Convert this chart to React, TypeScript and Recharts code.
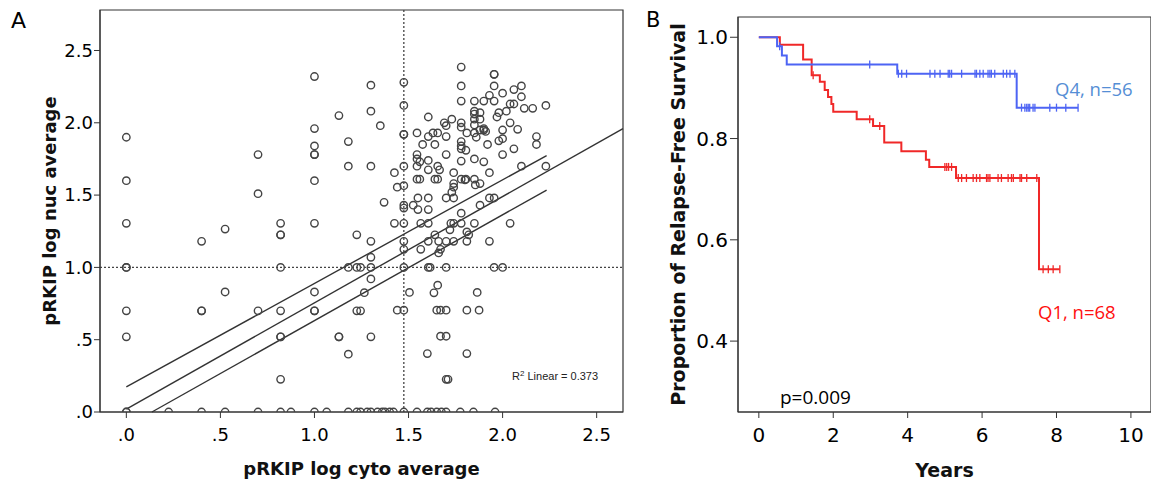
import { ScatterChart, ComposedChart, Scatter, Line, XAxis, YAxis, ReferenceLine, ReferenceArea } from 'recharts'

const AX = '#333'
const FONT = '"DejaVu Sans", sans-serif'
const RED = '#f02828'
const BLUE = '#4d64f4'

// panel A: log10 pRKIP cytoplasm (x) vs nucleus (y)
const nucVsCyto: [number, number][] = [
  [0, 1.9], [0, 1.6], [0, 1.305], [0, 1], [0, 1], [0, 0.7], [0, 0.52], [0, 0], [0, 0],
  [0.225, 0],
  [0.4, 1.18], [0.4, 0.7], [0.4, 0.7], [0.4, 0],
  [0.525, 1.265], [0.525, 0.83], [0.525, 0],
  [0.7, 1.78], [0.7, 1.51], [0.7, 0.7], [0.7, 0],
  [0.82, 1.305], [0.82, 1.225], [0.82, 1.225], [0.82, 1], [0.82, 0.7], [0.82, 0.52], [0.82, 0.52], [0.82, 0.226], [0.82, 0],
  [0.875, 0],
  [1, 2.32], [1, 1.96], [1, 1.84], [1, 1.78], [1, 1.78], [1, 1.6], [1, 1.305], [1, 0.83], [1, 0.7], [1, 0.7], [1, 0],
  [1.065, 0],
  [1.13, 2.05], [1.13, 0.52], [1.13, 0.52],
  [1.18, 1.87], [1.18, 1.7], [1.18, 1], [1.18, 0.4], [1.18, 0],
  [1.225, 1.225], [1.225, 1], [1.225, 0.7], [1.225, 0],
  [1.245, 1], [1.245, 0.7], [1.245, 0],
  [1.265, 0.825], [1.28, 0],
  [1.3, 2.26], [1.3, 2.08], [1.3, 1.7], [1.3, 1.18], [1.3, 1.07], [1.3, 1], [1.3, 0.92], [1.3, 0.52], [1.3, 0],
  [1.335, 0], [1.35, 1.98], [1.36, 0], [1.37, 1.45], [1.375, 0], [1.4, 0], [1.42, 0],
  [1.425, 1.655], [1.425, 1.305], [1.44, 1.555], [1.44, 0.704],
  [1.475, 2.28], [1.475, 2.12], [1.475, 1.92], [1.475, 1.92], [1.475, 1.7], [1.475, 1.565], [1.475, 1.43], [1.475, 1.41],
  [1.475, 1.305], [1.475, 1.18], [1.475, 1.125], [1.475, 1], [1.475, 0.704], [1.475, 0],
  [1.505, 0.827], [1.525, 1.43],
  [1.545, 1.93], [1.545, 1.78], [1.545, 1.75], [1.545, 1.7], [1.545, 1.61], [1.545, 0],
  [1.55, 1.48], [1.55, 1.4],
  [1.56, 1.73], [1.56, 1.61], [1.565, 1.305], [1.565, 1.125],
  [1.575, 1.85],
  [1.6, 0.404], [1.6, 0],
  [1.605, 2.04], [1.605, 1.905], [1.605, 1.74], [1.605, 1.675], [1.605, 1.48], [1.605, 1.4], [1.605, 1.305], [1.605, 1.18],
  [1.605, 1], [1.615, 1],
  [1.62, 0],
  [1.63, 1.93], [1.635, 0.824],
  [1.64, 1.85], [1.64, 1.61], [1.64, 1.225],
  [1.65, 0.704], [1.65, 0],
  [1.655, 1.93], [1.655, 1.7], [1.655, 1.61], [1.655, 0.877],
  [1.66, 1.18], [1.66, 1.1], [1.665, 1.675],
  [1.67, 1.125], [1.67, 0.704], [1.67, 0.524], [1.675, 0],
  [1.69, 2], [1.7, 1.98], [1.7, 1.905], [1.7, 1.78], [1.7, 1.48], [1.7, 1.18], [1.7, 1], [1.7, 0.704], [1.7, 0.524],
  [1.7, 0.226], [1.71, 0.226], [1.7, 0],
  [1.72, 1.26], [1.725, 1.305], [1.73, 2.025], [1.73, 1.52],
  [1.74, 1.655], [1.74, 1.58], [1.74, 1.555], [1.74, 1.48], [1.74, 1.305], [1.74, 1.18],
  [1.775, 0],
  [1.78, 2.385], [1.78, 2.255], [1.78, 2.15], [1.78, 2], [1.78, 1.97], [1.78, 1.87], [1.78, 1.84], [1.78, 1.82],
  [1.78, 1.735], [1.78, 1.61], [1.78, 1.375], [1.78, 1.305],
  [1.8, 1.605], [1.805, 1.81], [1.805, 1.61],
  [1.81, 1.93], [1.81, 1.245], [1.81, 1.18], [1.81, 0.704], [1.81, 0.404], [1.82, 1.225],
  [1.845, 0],
  [1.85, 2.15], [1.85, 2.08], [1.85, 2.06], [1.85, 2.025], [1.85, 1.985], [1.85, 1.93], [1.85, 1.75], [1.85, 1.61], [1.85, 1.305],
  [1.855, 1.57], [1.86, 1.9], [1.865, 0.827], [1.875, 0.704],
  [1.88, 2.07], [1.88, 2.025], [1.88, 1.95], [1.88, 1.58], [1.88, 1.43],
  [1.9, 2.15], [1.9, 1.96], [1.9, 1.95], [1.9, 1.73], [1.91, 1.94],
  [1.92, 1.85],
  [1.93, 2.19], [1.93, 1.655], [1.93, 1.48], [1.93, 1.18],
  [1.955, 2.335], [1.955, 2.335], [1.955, 2.255], [1.955, 2.15], [1.955, 1.48], [1.955, 1],
  [1.96, 0],
  [1.97, 2.04], [1.98, 2.07], [1.98, 1.875],
  [2, 2.205], [2, 1.95], [2, 1.89], [2, 1.78], [2, 1],
  [2.02, 2.08],
  [2.04, 2.13], [2.04, 2], [2.04, 1.305],
  [2.06, 2.23], [2.06, 2.13], [2.06, 1.82],
  [2.08, 1.955],
  [2.1, 2.255], [2.1, 2.18], [2.1, 1.7],
  [2.115, 2.1], [2.16, 2.1],
  [2.18, 1.905], [2.18, 1.85],
  [2.23, 2.12], [2.23, 1.7],
]
const cytoDomain = [-0.14, 2.64]
const nucDomain = [0, 2.78]
const cytoTicks = [0, 0.5, 1, 1.5, 2, 2.5]
const nucTicks = [0, 0.5, 1, 1.5, 2, 2.5]
const cytoCut = 1.475
const nucCut = 1
const fitLine = [[0, 0.02], [2.64, 1.96]]
const ciUpper = [[0, 0.173], [2.234, 1.773]]
const ciLower = [[0.136, 0], [2.234, 1.535]]
const r2 = '0.373'

// panel B: Kaplan-Meier steps [years, proportion]
const q1Steps: [number, number][] = [
  [0, 1], [0.565, 0.985], [1.19, 0.956], [1.42, 0.925], [1.64, 0.912], [1.77, 0.896], [1.86, 0.882],
  [1.95, 0.868], [2.0, 0.853], [2.63, 0.838], [3.07, 0.825], [3.37, 0.792], [3.83, 0.775], [4.49, 0.758],
  [4.58, 0.744], [5.3, 0.722], [7.53, 0.542], [8.09, 0.542],
]
const q4Steps: [number, number][] = [
  [0, 1], [0.49, 0.982], [0.62, 0.964], [0.75, 0.946], [3.72, 0.928], [6.93, 0.861], [8.58, 0.861],
]
const q1Censored = [
  1.46, 2.98, 3.25, 5.0, 5.05, 5.1, 5.18, 5.36, 5.45, 5.58, 5.76, 5.85, 5.94, 6.12, 6.16, 6.21, 6.43, 6.52,
  6.7, 6.79, 6.84, 7.02, 7.06, 7.2, 7.47, 7.64, 7.78, 7.91, 8.09,
]
const q4Censored = [
  0.56, 2.98, 3.75, 3.84, 3.97, 4.6, 4.73, 4.87, 5.09, 5.13, 5.18, 5.45, 5.81, 5.85, 5.94, 6.03, 6.16, 6.21,
  6.25, 6.34, 6.57, 6.66, 6.75, 6.88, 7.06, 7.15, 7.2, 7.24, 7.28, 7.37, 7.42, 7.82, 8.0, 8.25, 8.58,
]
const yearDomain = [-0.56, 10.54]
const survDomain = [0.26, 1.04]
const yearTicks = [0, 2, 4, 6, 8, 10]
const survTicks = [0.4, 0.6, 0.8, 1.0]

const survivalAt = (steps: [number, number][], t: number) => {
  let s = steps[0][1]
  for (const [st, sv] of steps) if (st <= t) s = sv
  return s
}

const scatterData = nucVsCyto.map(([x, y]) => ({ x, y }))
const seg = (pts: number[][]) => pts.map(([x, y]) => ({ x, y })) as any
const q1Data = q1Steps.map(([t, s]) => ({ t, s }))
const q4Data = q4Steps.map(([t, s]) => ({ t, s }))
const q1Marks = q1Censored.map((t) => ({ t, s: survivalAt(q1Steps, t) }))
const q4Marks = q4Censored.map((t) => ({ t, s: survivalAt(q4Steps, t) }))

const Ring = (p: any) => <circle cx={p.cx} cy={p.cy} r={3.7} fill="none" stroke="#444" strokeWidth={1.4} />
const censorMark = (color: string) => (p: any) => (
  <line x1={p.cx} x2={p.cx} y1={p.cy - 4} y2={p.cy + 4} stroke={color} strokeWidth={1.3} />
)

const tickStyle = { fill: '#000', fontSize: 18, fontFamily: FONT }
const tickStyleB = { fill: '#000', fontSize: 20, fontFamily: FONT }
const titleStyle = { fontSize: 18, fontWeight: 'bold', fontFamily: FONT, fill: '#111', textAnchor: 'middle' } as any
const titleStyleB = { ...titleStyle, fontSize: 19 }
const dotFmt = (v: number) => v.toFixed(1).replace(/^0/, '')

function ScatterPanel() {
  return (
    <ScatterChart width={640} height={481} margin={{ top: 10, right: 17, left: 0, bottom: 0 }}>
      <XAxis
        type="number" dataKey="x" domain={cytoDomain} ticks={cytoTicks} allowDataOverflow
        tickFormatter={dotFmt} tick={tickStyle} tickSize={6} tickMargin={10} height={69}
        stroke={AX} tickLine={{ stroke: AX }}
        label={{ value: 'pRKIP log cyto average', position: 'insideBottom', offset: 6, style: titleStyle }}
      />
      <YAxis
        type="number" dataKey="y" domain={nucDomain} ticks={nucTicks} allowDataOverflow
        tickFormatter={dotFmt} tick={tickStyle} tickSize={6} tickMargin={1} width={100}
        stroke={AX} tickLine={{ stroke: AX }}
        label={{ value: 'pRKIP log nuc average', angle: -90, position: 'insideLeft', offset: 50, style: titleStyle }}
      />
      <ReferenceArea x1={cytoDomain[0]} x2={cytoDomain[1]} y1={nucDomain[0]} y2={nucDomain[1]} fill="none" stroke={AX} strokeWidth={1.2} />
      <ReferenceLine x={cytoCut} stroke="#444" strokeDasharray="2 2" strokeWidth={1.3} />
      <ReferenceLine y={nucCut} stroke="#444" strokeDasharray="2 2" strokeWidth={1.3} />
      <Scatter data={scatterData} shape={Ring} isAnimationActive={false} />
      <ReferenceLine segment={seg(ciUpper)} stroke="#333" strokeWidth={1.4} />
      <ReferenceLine segment={seg(fitLine)} stroke="#333" strokeWidth={1.4} />
      <ReferenceLine segment={seg(ciLower)} stroke="#333" strokeWidth={1.4} />
    </ScatterChart>
  )
}

function SurvivalPanel() {
  return (
    <ComposedChart width={511} height={481} margin={{ top: 17, right: 0, left: 0, bottom: 0 }}>
      <XAxis
        type="number" dataKey="t" domain={yearDomain} ticks={yearTicks} allowDataOverflow
        tick={tickStyleB} tickSize={6} tickMargin={10} height={69} stroke={AX} tickLine={{ stroke: AX }}
        label={{ value: 'Years', position: 'insideBottom', offset: 4, style: titleStyleB }}
      />
      <YAxis
        type="number" dataKey="s" domain={survDomain} ticks={survTicks} allowDataOverflow
        tickFormatter={(v: number) => v.toFixed(1)} tick={tickStyleB} tickSize={8} tickMargin={2} width={98}
        stroke={AX} tickLine={{ stroke: AX }}
        label={{ value: 'Proportion of Relapse-Free Survival', angle: -90, position: 'insideLeft', offset: 38, style: titleStyleB }}
      />
      <ReferenceArea x1={yearDomain[0]} x2={yearDomain[1]} y1={survDomain[0]} y2={survDomain[1]} fill="none" stroke={AX} strokeWidth={1.2} />
      <Line data={q1Data} dataKey="s" type="stepAfter" stroke={RED} strokeWidth={2} dot={false} isAnimationActive={false} />
      <Scatter data={q1Marks} dataKey="s" shape={censorMark(RED)} isAnimationActive={false} />
      <Line data={q4Data} dataKey="s" type="stepAfter" stroke={BLUE} strokeWidth={2} dot={false} isAnimationActive={false} />
      <Scatter data={q4Marks} dataKey="s" shape={censorMark(BLUE)} isAnimationActive={false} />
    </ComposedChart>
  )
}

export default function App() {
  return (
    <div style={{ position: 'absolute', left: 0, top: 0, width: 1151, height: 481, overflow: 'hidden', background: '#fff' }}>
      <div style={{ position: 'absolute', left: 0, top: 0 }}>
        <ScatterPanel />
      </div>
      <div style={{ position: 'absolute', left: 640, top: 0 }}>
        <SurvivalPanel />
      </div>
      <svg width={1151} height={481} style={{ position: 'absolute', left: 0, top: 0, pointerEvents: 'none' }}>
        <text x={11} y={28} fontSize={22} fontFamily={FONT} fill="#000">A</text>
        <text x={646} y={27} fontSize={21} fontFamily={FONT} fill="#000">B</text>
        <text x={512} y={380} fontSize={11} fontFamily='"Liberation Sans", Arial, sans-serif' fill="#222">
          R<tspan dy={-4} fontSize={8}>2</tspan><tspan dy={4}> Linear = {r2}</tspan>
        </text>
        <text x={1055} y={96} fontSize={18.5} fontFamily='"Open Sans", sans-serif' fill="#558ed5">Q4, n=56</text>
        <text x={1038} y={319} fontSize={18.5} fontFamily='"Open Sans", sans-serif' fill="#ff1010">Q1, n=68</text>
        <text x={780} y={404} fontSize={19} fontFamily='"Open Sans", sans-serif' fill="#000">p=0.009</text>
      </svg>
    </div>
  )
}
